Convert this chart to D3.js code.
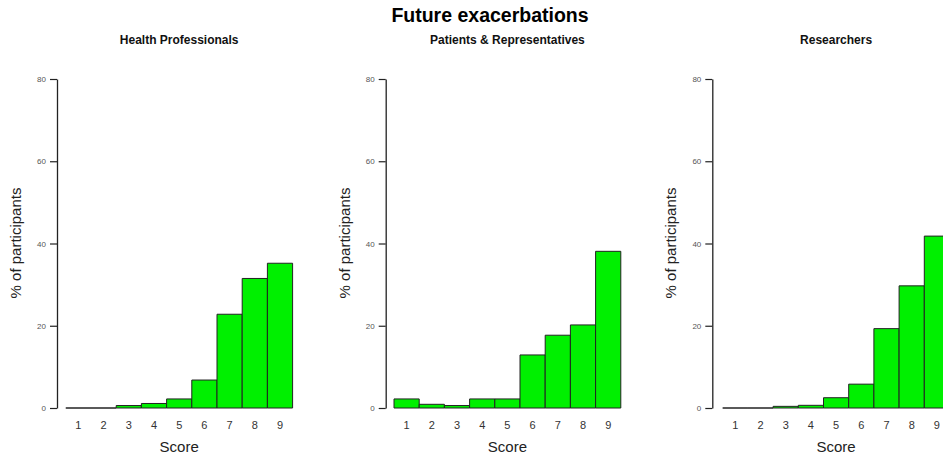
<!DOCTYPE html>
<html>
<head>
<meta charset="utf-8">
<script src="https://cdn.jsdelivr.net/npm/d3@7"></script>
<style>
  html, body { margin: 0; padding: 0; background: #fff; }
  svg { display: block; font-family: "Liberation Sans", Arial, sans-serif; }
</style>
</head>
<body>
<svg id="chart" width="943" height="465"></svg>
<script>
// ---- data ----
const chartTitle = "Future exacerbations";
const groups = ["Health Professionals", "Patients & Representatives", "Researchers"];
const scores = ["1", "2", "3", "4", "5", "6", "7", "8", "9"];
const healthProfessionals = [0, 0, 0.6, 1.1, 2.2, 6.8, 22.8, 31.5, 35.2];
const patientsReps = [2.2, 0.9, 0.6, 2.2, 2.2, 12.9, 17.7, 20.2, 38.1];
const researchers = [0, 0, 0.4, 0.65, 2.5, 5.8, 19.3, 29.7, 41.8];
const yTicks = [0, 20, 40, 60, 80];
const xLabel = "Score";
const yLabel = "% of participants";

const seriesList = [healthProfessionals, patientsReps, researchers];

// ---- layout ----
const axisXs = [57, 385.7, 712.3];
const barStarts = [65.8, 394, 722.7];
const barWidth = 25.2;
const yTop = 79, yBottom = 408;
const fillColor = "#00f000";

const svg = d3.select("#chart");

svg.append("text")
  .attr("x", 490).attr("y", 22)
  .attr("text-anchor", "middle")
  .attr("font-size", 19.5).attr("font-weight", "bold")
  .attr("fill", "#000")
  .text(chartTitle);

const y = d3.scaleLinear().domain([0, 80]).range([yBottom, yTop]);

groups.forEach((name, i) => {
  const values = seriesList[i];
  const x = d3.scaleBand().domain(scores)
    .range([barStarts[i], barStarts[i] + barWidth * scores.length])
    .padding(0);
  const g = svg.append("g");
  const cx = (x.range()[0] + x.range()[1]) / 2;

  // subtitle
  g.append("text")
    .attr("x", cx).attr("y", 44)
    .attr("text-anchor", "middle")
    .attr("font-size", 12).attr("font-weight", "bold")
    .attr("fill", "#111")
    .text(name);

  // bars (paths so zero-height bars still show their outline)
  g.selectAll("path.bar").data(values).join("path")
    .attr("class", "bar")
    .attr("d", (d, j) => {
      const x0 = x(scores[j]), x1 = x0 + x.bandwidth();
      return `M${x0},${y(0)}V${y(d)}H${x1}V${y(0)}Z`;
    })
    .attr("fill", fillColor)
    .attr("stroke", "#222")
    .attr("stroke-width", 1);

  // y axis
  const ax = g.append("g")
    .attr("transform", `translate(${axisXs[i]},0)`)
    .call(d3.axisLeft(y).tickValues(yTicks).tickSize(7).tickSizeOuter(0).tickPadding(4));
  ax.select(".domain").attr("stroke", "#222").attr("stroke-width", 1.3);
  ax.selectAll(".tick line").attr("stroke", "#222").attr("stroke-width", 1.2);
  ax.selectAll(".tick text").attr("font-size", 8).attr("fill", "#555")
    .attr("font-family", "Liberation Sans, Arial, sans-serif");

  // x labels (no axis line)
  g.selectAll("text.xl").data(scores).join("text")
    .attr("class", "xl")
    .attr("x", d => x(d) + x.bandwidth() / 2)
    .attr("y", 429)
    .attr("text-anchor", "middle")
    .attr("font-size", 11).attr("fill", "#333")
    .text(d => d);

  g.append("text")
    .attr("x", cx).attr("y", 452)
    .attr("text-anchor", "middle")
    .attr("font-size", 15).attr("fill", "#222")
    .text(xLabel);

  g.append("text")
    .attr("transform", `translate(${axisXs[i] - 36},243) rotate(-90)`)
    .attr("text-anchor", "middle")
    .attr("font-size", 15).attr("fill", "#222")
    .text(yLabel);
});
</script>
</body>
</html>
